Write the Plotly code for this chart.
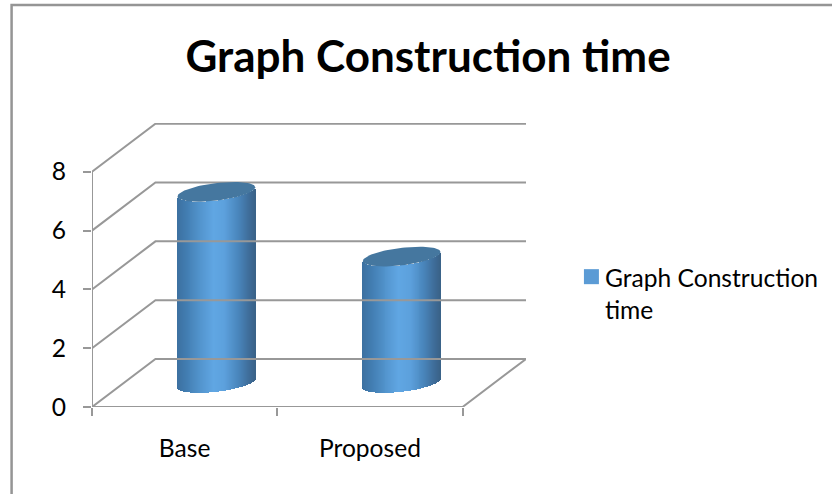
import numpy as np
import plotly.graph_objects as go

# Chart data
categories = ["Base", "Proposed"]
values = [6.5, 4.3]
series_name = "Graph Construction<br>time"
value_ticks = [0, 2, 4, 6, 8]
chart_title = "Graph Construction time"

W, H = 832, 494
FONT = "Lato"
GRID = "#989898"
TEXT_SIZE = 24.6

# Oblique 3D frame, expressed in axis units
PX_PER_CAT = 185.5
PX_PER_VAL = 29.37
X0, Y0 = 91.5, 406.7          # pixel position of the front-left floor corner
X1, Y1 = 526.0, 123.0         # right and upper ends of the plot area
DEPTH_X = 63.5 / PX_PER_CAT
DEPTH_Y = 48.0 / PX_PER_VAL
LEFT = -0.5
RIGHT = LEFT + len(categories)

# Cylinder proportions
RX = 38.9 / PX_PER_CAT
TILT = 4.5 / PX_PER_VAL
RY = 8.8 / PX_PER_VAL
STRIPS = 80
STOPS = [0.0, 0.12, 0.3, 0.47, 0.62, 0.8, 0.93, 1.0]
SHADES = [(60, 112, 160), (66, 125, 177), (82, 148, 205), (96, 166, 227),
          (92, 160, 220), (72, 132, 186), (62, 108, 152), (58, 98, 136)]


def shade(f):
    rgb = [np.interp(f, STOPS, [s[c] for s in SHADES]) for c in range(3)]
    return "rgb({:.0f},{:.0f},{:.0f})".format(*rgb)


def paper_x(px):
    return (px - X0) / (X1 - X0)


def paper_y(py):
    return (Y0 - py) / (Y0 - Y1)


fig = go.Figure()

# Frame: walls, floor and value axis
gx, gy = [], []
for v in value_ticks:
    gx += [LEFT, LEFT + DEPTH_X, RIGHT + DEPTH_X, None]
    gy += [v, v + DEPTH_Y, v + DEPTH_Y, None]
gx += [LEFT, RIGHT, RIGHT + DEPTH_X, None, LEFT, LEFT]
gy += [0, 0, DEPTH_Y, None, 0, max(value_ticks)]
fig.add_trace(go.Scatter(x=gx, y=gy, mode="lines", showlegend=False, hoverinfo="skip",
                         cliponaxis=False, line=dict(color=GRID, width=2)))

# Cylinders: the side is a run of thin bars, each shaded by its position across the width
u = (np.arange(STRIPS) + 0.5) / STRIPS * 2 - 1
front = TILT * u - RY * np.sqrt(1 - u ** 2)
for i, val in enumerate(values):
    cx = i + DEPTH_X / 2
    floor = DEPTH_Y / 2
    fig.add_trace(go.Bar(
        x=cx + RX * u, y=[val] * STRIPS, base=floor + front,
        width=RX * 2 / STRIPS * 1.25,
        marker=dict(color=[shade((a + 1) / 2) for a in u], line=dict(width=0)),
        showlegend=False, hoverinfo="skip"))
    t = np.linspace(0, 2 * np.pi, 90)
    fig.add_trace(go.Scatter(
        x=cx + RX * np.cos(t), y=floor + val + TILT * np.cos(t) + RY * np.sin(t),
        mode="lines", fill="toself", fillcolor="#45779f", line=dict(width=0),
        showlegend=False, hoverinfo="skip"))

# Legend entry: the text comes from the legend, the swatch sits beside its first line
fig.add_trace(go.Scatter(
    x=[None], y=[None], mode="markers", name=series_name,
    marker=dict(symbol="square", size=15, color="rgba(0,0,0,0)")))

fig.update_layout(
    width=W, height=H,
    margin=dict(l=X0, r=W - X1, t=Y1, b=H - Y0, pad=0, autoexpand=False),
    paper_bgcolor="white", plot_bgcolor="white", barmode="overlay", bargap=0,
    font=dict(family=FONT, color="black"),
    title=dict(text="<b>" + chart_title + "</b>", x=0.5145, xanchor="center",
               y=1 - 57 / H, yanchor="middle", font=dict(family=FONT, size=44, color="black")),
    showlegend=True,
    legend=dict(x=paper_x(565), xanchor="left", y=paper_y(254.5), yanchor="top",
                bgcolor="rgba(0,0,0,0)", font=dict(family=FONT, size=TEXT_SIZE, color="black")),
    xaxis=dict(range=[LEFT, LEFT + (X1 - X0) / PX_PER_CAT],
               tickmode="array", tickvals=list(range(len(categories))), ticktext=categories,
               ticks="", showgrid=False, zeroline=False, showline=False,
               tickfont=dict(size=TEXT_SIZE), ticklabelstandoff=24,
               minor=dict(tick0=LEFT, dtick=1, ticks="outside", ticklen=8, tickwidth=2,
                          tickcolor=GRID, showgrid=False)),
    yaxis=dict(range=[0, (Y0 - Y1) / PX_PER_VAL],
               tickmode="array", tickvals=value_ticks, ticks="outside", ticklen=8, tickwidth=2,
               tickcolor=GRID, showgrid=False, zeroline=False, showline=False,
               tickfont=dict(size=TEXT_SIZE), ticklabelstandoff=12),
    shapes=[
        dict(type="rect", xref="paper", yref="paper", x0=paper_x(11), x1=paper_x(W + 20),
             y0=paper_y(H + 20), y1=paper_y(5), line=dict(color="#959595", width=2.5),
             layer="below"),
        dict(type="rect", xref="paper", yref="paper", x0=paper_x(584), x1=paper_x(599),
             y0=paper_y(284), y1=paper_y(269), line=dict(width=0), fillcolor="#5b9bd5"),
    ],
)

fig.write_html("out.html")
